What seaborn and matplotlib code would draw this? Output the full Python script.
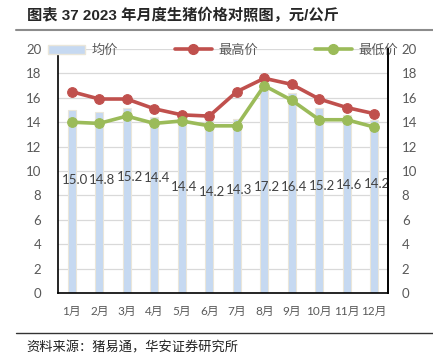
import pandas as pd
import seaborn as sns
import matplotlib.pyplot as plt
from matplotlib.lines import Line2D
from matplotlib.patches import Patch

months = ["1月", "2月", "3月", "4月", "5月", "6月", "7月", "8月", "9月", "10月", "11月", "12月"]
avg_price = [15.0, 14.8, 15.2, 14.4, 14.4, 14.2, 14.3, 17.2, 16.4, 15.2, 14.6, 14.2]
max_price = [16.5, 15.9, 15.9, 15.1, 14.6, 14.5, 16.5, 17.6, 17.1, 15.9, 15.2, 14.7]
min_price = [14.0, 13.9, 14.5, 13.9, 14.1, 13.7, 13.7, 17.0, 15.8, 14.2, 14.2, 13.6]
# where Excel left the bar value labels (data units)
label_y = [9.3, 9.3, 9.5, 9.4, 8.7, 8.3, 8.4, 8.7, 8.7, 8.8, 8.85, 8.9]

sns.set_style("white")
plt.rcParams["font.family"] = ["Lato", "Noto Sans CJK SC", "DejaVu Sans"]

df = pd.DataFrame({"idx": range(len(months)), "month": months,
                   "avg": avg_price, "max": max_price, "min": min_price})

grey = "#595959"
red = "#C0504D"
green = "#9BBB59"
blue = "#C6D9F1"

fig = plt.figure(figsize=(4.33, 3.63), dpi=100)
ax = fig.add_axes([0.134, 0.193, 0.762, 0.672])

sns.barplot(data=df, x="idx", y="avg", color=blue, width=0.3, saturation=1,
            edgecolor="#EAE6DA", linewidth=0.8, ax=ax, zorder=2)
sns.lineplot(data=df, x="idx", y="max", color=red, lw=2.6, marker="o",
             markersize=7, markeredgecolor=red, ax=ax, zorder=4)
sns.lineplot(data=df, x="idx", y="min", color=green, lw=2.6, marker="o",
             markersize=7, markeredgecolor=green, ax=ax, zorder=4)

for i, (v, ly) in enumerate(zip(avg_price, label_y)):
    ax.annotate(f"{v:.1f}", (i, ly), xytext=(2, 0), textcoords="offset points",
                ha="center", va="center", fontsize=9.5, color="#404040", zorder=5)

ax.set_xlim(-0.5, 11.5)
ax.set_ylim(0, 20)
ax.set_yticks(range(0, 21, 2))
ax.set_xticks(range(len(months)))
ax.set_xticklabels(months)
ax.set_xlabel("")
ax.set_ylabel("")
ax.grid(axis="y", color="#D9D9D9", lw=0.9, zorder=0)
ax.set_axisbelow(True)
ax.tick_params(axis="y", length=0, pad=12, labelsize=9.5, labelcolor=grey)
ax.tick_params(axis="x", length=0, pad=9, labelsize=8.5, labelcolor=grey)
for s in ["left", "bottom", "right"]:
    ax.spines[s].set_color("black")
    ax.spines[s].set_linewidth(1.2)
ax.spines["top"].set_visible(False)

ax2 = ax.twinx()
ax2.set_ylim(0, 20)
ax2.set_yticks(range(0, 21, 2))
ax2.tick_params(axis="y", length=0, pad=10, labelsize=9.5, labelcolor=grey)
for s in ["left", "top", "bottom"]:
    ax2.spines[s].set_visible(False)
ax2.spines["right"].set_color("black")
ax2.spines["right"].set_linewidth(1.2)

handles = [Patch(facecolor=blue, edgecolor="#EAE6DA"),
           Line2D([], [], color=red, lw=2.6, marker="o", markersize=7),
           Line2D([], [], color=green, lw=2.6, marker="o", markersize=7)]
leg = ax.legend(handles, ["均价", "最高价", "最低价"], ncol=3, loc="center",
                bbox_to_anchor=(0.5, 0.997), frameon=False, fontsize=9.5,
                handlelength=2.8, columnspacing=4.3, handletextpad=0.5)
for t in leg.get_texts():
    t.set_color(grey)
leg.set_zorder(6)

fig.text(0.062, 0.958, "图表 37 2023 年月度生猪价格对照图，元/公斤", fontsize=11,
         fontweight="bold", va="center", ha="left",
         family=["Liberation Sans", "Noto Sans CJK SC"])
fig.add_artist(Line2D([0.037, 1.0], [0.917, 0.917], color="#8C8C8C", lw=1.5))
fig.add_artist(Line2D([0.037, 1.0], [0.083, 0.083], color="#333333", lw=1.0))
fig.text(0.062, 0.041, "资料来源：猪易通，华安证券研究所", fontsize=9.5,
         va="center", ha="left", color="#222222", family=["Noto Sans CJK SC"])

fig.savefig("out.png", dpi=100)
